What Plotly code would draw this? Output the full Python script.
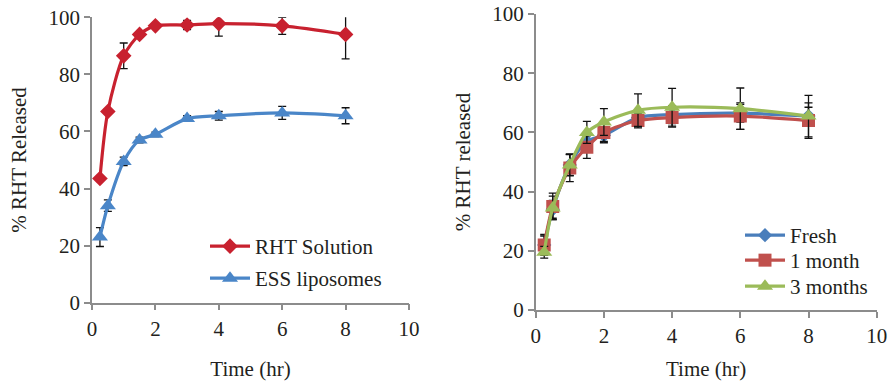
import plotly.graph_objects as go

# ---------------- data ----------------
time_hr = [0.25, 0.5, 1, 1.5, 2, 3, 4, 6, 8]

# Left panel
rht_solution = [43.5, 67, 86.5, 94, 97, 97.3, 97.8, 97, 94]
rht_solution_err = [0.5, 1, 4.5, 1, 0.8, 1.6, 4.4, 3, 8.6]
ess_liposomes = [23, 34, 49.5, 57, 59, 64.5, 65.5, 66.5, 65.5]
ess_liposomes_err = [3.3, 2, 1.5, 1, 0.8, 1, 1.5, 2.3, 2.8]

# Right panel
fresh = [22, 34, 49, 57, 59, 65, 66, 66.5, 65.5]
fresh_err = [3.5, 3, 3.5, 2.5, 2.5, 2.5, 3, 3, 3]
month1 = [22, 35, 48, 55, 60, 64, 65, 65.5, 64]
month1_err = [3, 4.5, 4.6, 3.8, 3, 2.5, 3.2, 4.5, 6]
month3 = [19.5, 34.5, 49, 60, 63.5, 67.5, 68.5, 68, 65.5]
month3_err = [2, 4, 3.7, 3.7, 4.5, 5.5, 6.4, 7, 7]

x_ticks = [0, 2, 4, 6, 8, 10]
y_ticks = [0, 20, 40, 60, 80, 100]

FONT = "Times New Roman, Liberation Serif, DejaVu Serif, serif"
TXT = "#231f20"
AX = "#8c8c8c"
FS = 21

fig = go.Figure()


def add(x, y, err, name, color, symbol, size, xa, ya, legend):
    fig.add_trace(go.Scatter(
        x=x, y=y, name=name, mode="lines+markers",
        line=dict(color=color, width=3.2, shape="spline", smoothing=0.8),
        marker=dict(symbol=symbol, size=size, color=color),
        error_y=dict(type="data", array=err, visible=True, color="#111111",
                     thickness=1.3, width=4),
        xaxis=xa, yaxis=ya, legend=legend,
    ))


add(time_hr, rht_solution, rht_solution_err, "RHT Solution", "#c8212f", "diamond", 12, "x", "y", "legend")
add(time_hr, ess_liposomes, ess_liposomes_err, "ESS liposomes", "#4a86c8", "triangle-up", 14, "x", "y", "legend2")
add(time_hr, fresh, fresh_err, "Fresh", "#4a7ebb", "diamond", 11, "x2", "y2", "legend3")
add(time_hr, month1, month1_err, "1 month", "#c0504d", "square", 13, "x2", "y2", "legend4")
add(time_hr, month3, month3_err, "3 months", "#9bbb59", "triangle-up", 14, "x2", "y2", "legend5")

axis_common = dict(
    showline=True, linecolor=AX, linewidth=1.5,
    ticks="outside", tickcolor=AX, tickwidth=1.5, ticklen=6,
    showgrid=False, zeroline=False, automargin=False,
    tickfont=dict(family=FONT, size=FS, color=TXT),
)


def legend_at(xpx, ypx):
    return dict(x=xpx / 889, y=1 - ypx / 381, xanchor="left", yanchor="top",
                bgcolor="rgba(0,0,0,0)", font=dict(family=FONT, size=FS, color=TXT),
                itemwidth=40)


fig.update_layout(
    width=889, height=381,
    margin=dict(l=0, r=0, t=0, b=0),
    paper_bgcolor="white", plot_bgcolor="white",
    font=dict(family=FONT, color=TXT),
    xaxis=dict(domain=[92 / 889, 409 / 889], range=[0, 10], tickvals=x_ticks,
               anchor="y",
               title=dict(text="Time (hr)", font=dict(family=FONT, size=FS, color=TXT), standoff=22),
               **axis_common),
    yaxis=dict(domain=[1 - 302.7 / 381, 1 - 17.3 / 381], range=[0, 100], tickvals=y_ticks,
               anchor="x",
               title=dict(text="% RHT Released", font=dict(family=FONT, size=FS, color=TXT), standoff=16),
               **axis_common),
    xaxis2=dict(domain=[535.7 / 889, 876.7 / 889], range=[0, 10], tickvals=x_ticks,
                anchor="y2",
                title=dict(text="Time (hr)", font=dict(family=FONT, size=FS, color=TXT), standoff=15),
                **axis_common),
    yaxis2=dict(domain=[1 - 310 / 381, 1 - 14 / 381], range=[0, 100], tickvals=y_ticks,
                anchor="x2",
                title=dict(text="% RHT released", font=dict(family=FONT, size=FS, color=TXT), standoff=16),
                **axis_common),
    legend=legend_at(205, 226),
    legend2=legend_at(205, 258),
    legend3=legend_at(740, 215),
    legend4=legend_at(740, 240),
    legend5=legend_at(740, 266),
    showlegend=True,
)

fig.write_html("out.html", config={"displayModeBar": False},
               post_script="document.body.style.margin='0px';")
